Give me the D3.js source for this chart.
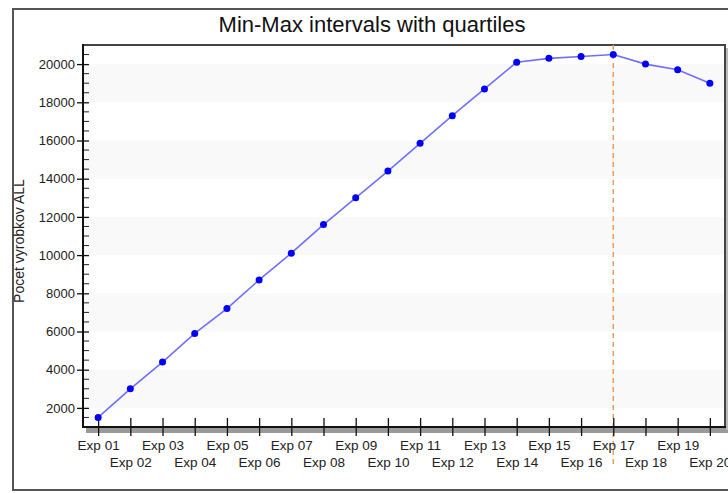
<!DOCTYPE html>
<html>
<head>
<meta charset="utf-8">
<script src="https://cdn.jsdelivr.net/npm/d3@7"></script>
<style>
  html, body { margin: 0; padding: 0; background: #fff; }
  svg { display: block; font-family: Arial, "Liberation Sans", sans-serif; }
</style>
</head>
<body>
<svg id="chart" width="728" height="493"></svg>
<script>
// Experiments and the measured counts
const categories = ["Exp 01","Exp 02","Exp 03","Exp 04","Exp 05","Exp 06","Exp 07","Exp 08","Exp 09","Exp 10",
                    "Exp 11","Exp 12","Exp 13","Exp 14","Exp 15","Exp 16","Exp 17","Exp 18","Exp 19","Exp 20"];
const values = [1500, 3000, 4400, 5900, 7200, 8700, 10100, 11600, 13000, 14400,
                15850, 17300, 18700, 20100, 20300, 20400, 20500, 20000, 19700, 19000];
const yTicks = [2000, 4000, 6000, 8000, 10000, 12000, 14000, 16000, 18000, 20000];
const yMinorTicks = d3.range(1500, 20600, 500).filter(v => v % 2000 !== 0);
const markerCategory = "Exp 17";
const title = "Min-Max intervals with quartiles";
const yTitle = "Pocet vyrobkov ALL";

const svg = d3.select("#chart");
const plot = { left: 83, top: 45, right: 725, bottom: 427 };

const x = d3.scalePoint().domain(categories).range([plot.left, plot.right]).padding(0.47);
const y = d3.scaleLinear().domain([1000, 21000]).range([plot.bottom, plot.top]);

// outer frame
svg.append("rect")
  .attr("x", 13).attr("y", 9).attr("width", 730).attr("height", 481)
  .attr("fill", "none").attr("stroke", "#555").attr("stroke-width", 2);

// title
svg.append("text")
  .attr("x", 372).attr("y", 32)
  .attr("text-anchor", "middle")
  .attr("font-size", 22).attr("fill", "#111")
  .text(title);

// alternating horizontal bands between major ticks
const bands = yTicks.filter((v, i) => i % 2 === 0);
svg.append("g").selectAll("rect").data(bands).join("rect")
  .attr("x", plot.left).attr("width", plot.right - plot.left)
  .attr("y", d => y(d + 2000)).attr("height", d => y(d) - y(d + 2000))
  .attr("fill", "#f9f9f9");

// shadows of the plot frame
svg.append("rect")
  .attr("x", plot.left + 3).attr("y", plot.bottom + 1)
  .attr("width", plot.right - plot.left).attr("height", 5)
  .attr("fill", "#9a9a9a");
svg.append("rect")
  .attr("x", plot.right + 1).attr("y", plot.top + 3)
  .attr("width", 2).attr("height", plot.bottom - plot.top)
  .attr("fill", "#bbb");

// top and right borders
svg.append("path")
  .attr("d", `M${plot.left},${plot.top}H${plot.right}V${plot.bottom}`)
  .attr("fill", "none").attr("stroke", "#444").attr("stroke-width", 2);

// marker line at the selected experiment
svg.append("line")
  .attr("x1", x(markerCategory)).attr("x2", x(markerCategory))
  .attr("y1", plot.top).attr("y2", 468)
  .attr("stroke", "#f39a55").attr("stroke-width", 1.5)
  .attr("stroke-dasharray", "5,4");

// y axis
const yAxis = svg.append("g")
  .attr("transform", `translate(${plot.left},0)`)
  .call(d3.axisLeft(y).tickValues(yTicks).tickFormat(d3.format("d"))
    .tickSize(6).tickPadding(2).tickSizeOuter(0));
yAxis.select(".domain").remove();
yAxis.selectAll(".tick line").attr("x1", 6).attr("x2", -6).attr("stroke", "#111").attr("stroke-width", 1.3);
yAxis.selectAll(".tick text").attr("font-size", 13).attr("fill", "#222").attr("font-family", null);
svg.append("g").selectAll("line").data(yMinorTicks).join("line")
  .attr("x1", plot.left).attr("x2", plot.left + 6)
  .attr("y1", d => y(d)).attr("y2", d => y(d))
  .attr("stroke", "#222").attr("stroke-width", 1);
svg.append("line")
  .attr("x1", plot.left).attr("x2", plot.left)
  .attr("y1", plot.top - 1).attr("y2", plot.bottom + 1)
  .attr("stroke", "#111").attr("stroke-width", 2);

// x axis
const xAxis = svg.append("g")
  .attr("transform", `translate(0,${plot.bottom})`)
  .call(d3.axisBottom(x).tickSize(9).tickPadding(0).tickSizeOuter(0));
xAxis.select(".domain").remove();
xAxis.selectAll(".tick line").attr("y1", -9).attr("y2", 9).attr("stroke", "#111").attr("stroke-width", 1.3);
xAxis.selectAll(".tick text")
  .attr("font-size", 13.5).attr("fill", "#222").attr("font-family", null)
  .attr("y", (d, i) => i % 2 === 0 ? 23 : 40)
  .attr("dy", 0);
svg.append("line")
  .attr("x1", plot.left - 1).attr("x2", plot.right + 1)
  .attr("y1", plot.bottom).attr("y2", plot.bottom)
  .attr("stroke", "#111").attr("stroke-width", 2);

// y axis title
svg.append("text")
  .attr("transform", `translate(24,${241}) rotate(-90)`)
  .attr("text-anchor", "middle")
  .attr("font-size", 14).attr("fill", "#222")
  .text(yTitle);

// series line and points
const series = categories.map((c, i) => ({ c, v: values[i] }));
svg.append("path")
  .datum(series)
  .attr("d", d3.line().x(d => x(d.c)).y(d => y(d.v)))
  .attr("fill", "none").attr("stroke", "#6f6fff").attr("stroke-width", 1.6);
svg.append("g").selectAll("circle").data(series).join("circle")
  .attr("cx", d => x(d.c)).attr("cy", d => y(d.v)).attr("r", 3.5)
  .attr("fill", "#0000ff");
</script>
</body>
</html>
